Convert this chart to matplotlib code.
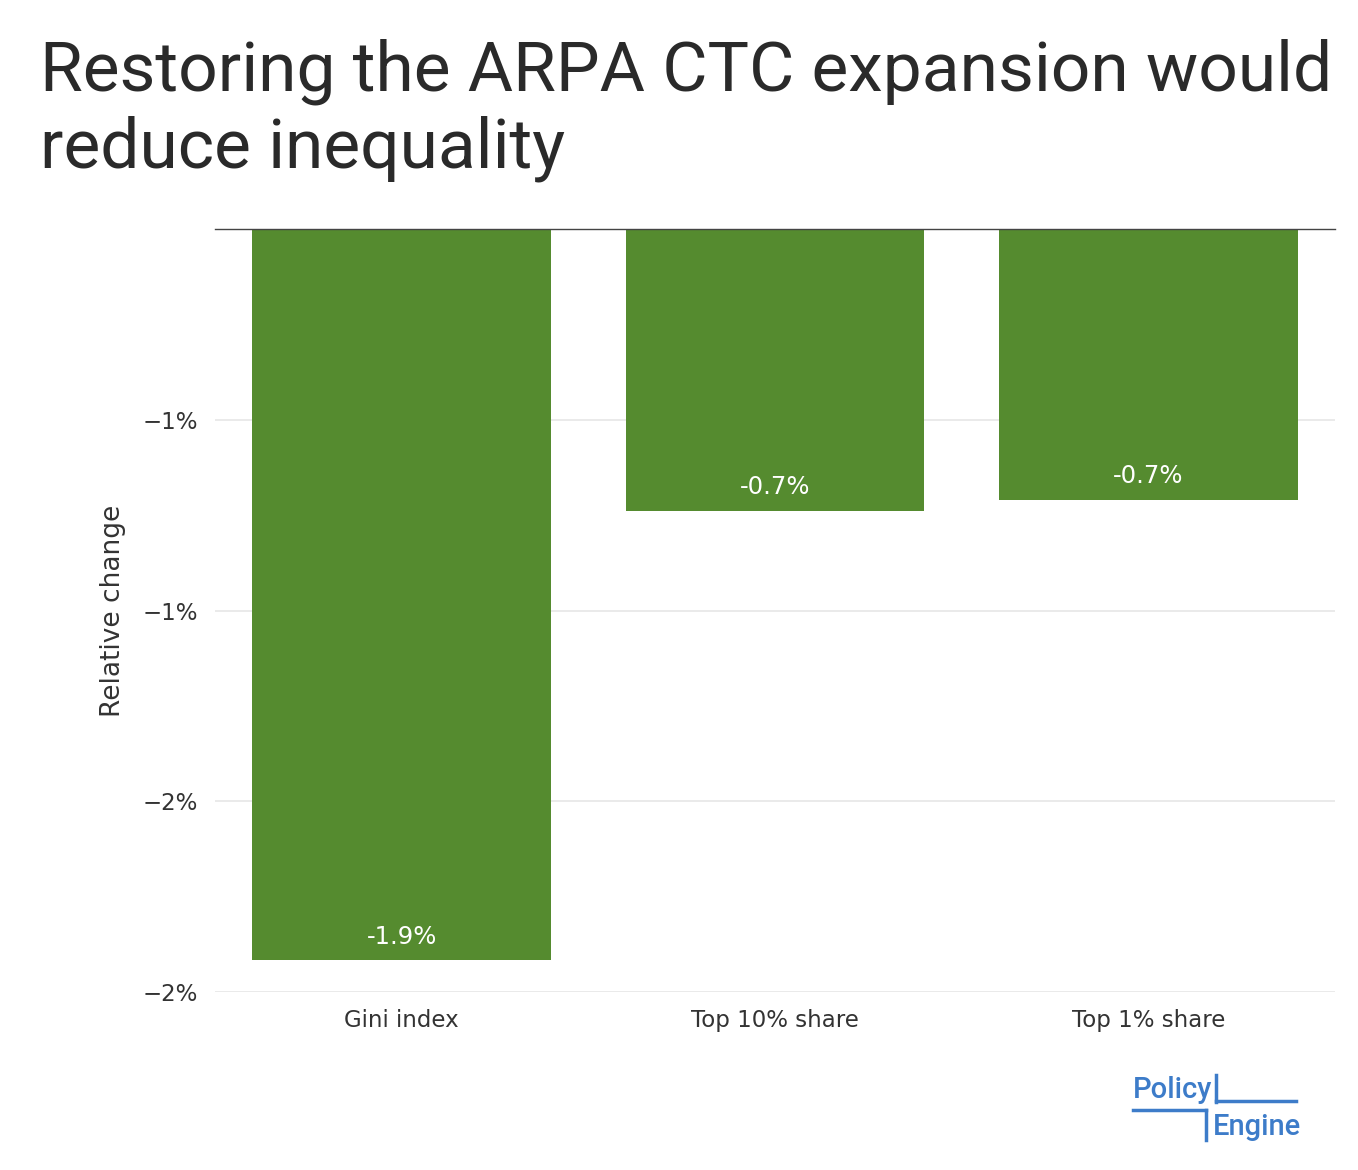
import matplotlib
matplotlib.use("Agg")
import matplotlib.pyplot as plt

categories = ["Gini index", "Top 10% share", "Top 1% share"]
values = [-0.01916, -0.00739, -0.00710]
labels = ["-1.9%", "-0.7%", "-0.7%"]
tick_vals = [-0.005, -0.010, -0.015, -0.020]
tick_labels = ["\u22121%", "\u22121%", "\u22122%", "\u22122%"]

W, H = 1358, 1170
fig = plt.figure(figsize=(W/100, H/100), dpi=100)
ax = fig.add_axes([215/W, 1-992/H, (1335-215)/W, (992-229)/H])
green = "#558b2f"
x = range(len(categories))
ax.bar(x, values, width=0.8, color=green, zorder=3)
for i, (v, l) in enumerate(zip(values, labels)):
    ax.text(i, v + 0.0003, l, ha="center", va="bottom", color="white",
            fontsize=17.5, family="DejaVu Sans", zorder=4)
ax.set_xlim(-0.5, 2.5)
ax.set_ylim(-0.020, 0)
ax.set_yticks(tick_vals)
ax.set_yticklabels(tick_labels)
ax.set_xticks(list(x))
ax.set_xticklabels(categories)
ax.tick_params(length=0, labelsize=16.5, colors="#333333", pad=12)
for lab in ax.get_xticklabels() + ax.get_yticklabels():
    lab.set_family("DejaVu Sans")
ax.grid(axis="y", color="#e8e8e8", linewidth=1.3, zorder=0)
for s in ["left", "right", "bottom"]:
    ax.spines[s].set_visible(False)
ax.spines["top"].set_color("#444444")
ax.spines["top"].set_linewidth(1)
ax.spines["top"].set_zorder(5)
ax.set_ylabel("Relative change", fontsize=19, family="DejaVu Sans", color="#333333", labelpad=12)

fig.text(40/W, 1-110/H, "Restoring the ARPA CTC expansion would\nreduce inequality",
         fontsize=50, family="Roboto", weight="normal", color="#2a2a2a",
         va="center", ha="left", linespacing=1.2)

blue = "#3d7cc9"
fig.text(1133/W, 1-1090/H, "Policy", fontsize=21, family="Roboto", weight="medium",
         color=blue, va="center", ha="left")
fig.text(1213/W, 1-1127/H, "Engine", fontsize=21, family="Roboto", weight="medium",
         color=blue, va="center", ha="left")
fig.add_artist(plt.Line2D([1216/W, 1216/W], [1-1075/H, 1-1102/H], color=blue, lw=2.5))
fig.add_artist(plt.Line2D([1216/W, 1296/W], [1-1101/H, 1-1101/H], color=blue, lw=2.5))
fig.add_artist(plt.Line2D([1133/W, 1206/W], [1-1110/H, 1-1110/H], color=blue, lw=2.5))
fig.add_artist(plt.Line2D([1206/W, 1206/W], [1-1110/H, 1-1140/H], color=blue, lw=2.5))

fig.savefig("out.png", dpi=100, facecolor="white")
